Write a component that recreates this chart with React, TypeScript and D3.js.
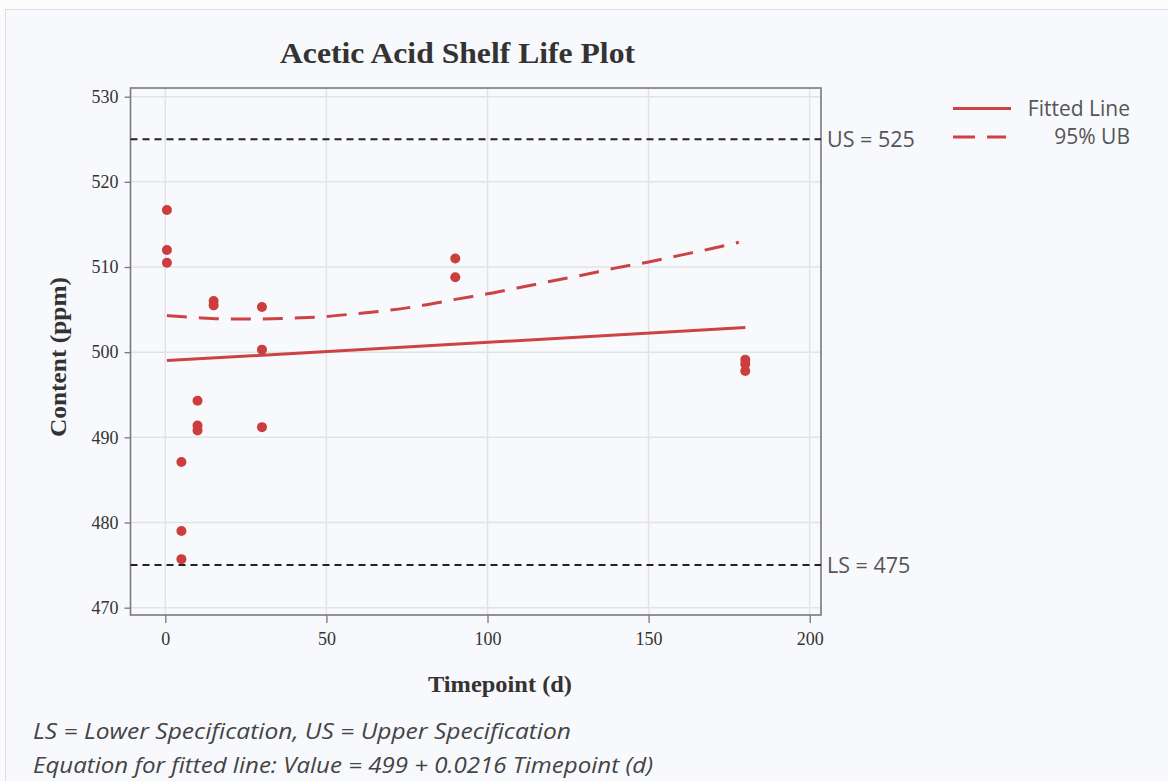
import React, { useEffect, useRef } from 'react';
import * as d3 from 'd3';

// observed results (timepoint in days, content in ppm)
const timepoints = [0.5, 0.5, 0.5, 5, 5, 5, 10, 10, 10, 15, 15, 30, 30, 30, 90, 90, 180, 180, 180];
const contents = [516.7, 512.0, 510.5, 487.1, 479.0, 475.7, 494.3, 491.4, 490.8, 506.0, 505.5, 505.3, 500.3, 491.2, 511.0, 508.8, 499.1, 498.6, 497.8];

// fitted line, Value = 499 + 0.0216 Timepoint (d)
const fitIntercept = 499;
const fitSlope = 0.0216;
const fitRange = [0.5, 180];

// 95% upper bound curve
const ubTimes = [0.5, 10, 20, 30, 40, 50, 60, 70, 80, 90, 100, 110, 120, 130, 140, 150, 160, 170, 178];
const ubValues = [504.3, 504.05, 503.9, 503.9, 504.0, 504.2, 504.55, 504.95, 505.5, 506.2, 506.85, 507.6, 508.35, 509.1, 509.9, 510.6, 511.4, 512.2, 512.9];

// specification limits
const specNames = ['US', 'LS'];
const specValues = [525, 475];

const xTicks = [0, 50, 100, 150, 200];
const yTicks = [470, 480, 490, 500, 510, 520, 530];

const legendLabels = ['Fitted Line', '95% UB'];
const footnotes = [
  'LS = Lower Specification, US = Upper Specification',
  'Equation for fitted line: Value = 499 + 0.0216 Timepoint (d)',
];

const W = 1168;
const H = 781;
const RED = '#cd4242';
const SANS = '"Open Sans", "Noto Sans", sans-serif';
const SERIF = '"Liberation Serif", "Times New Roman", serif';

export default function App() {
  const svgRef = useRef<SVGSVGElement>(null);

  useEffect(() => {
    if (!svgRef.current) return;
    const svg = d3.select(svgRef.current);
    svg.selectAll('*').remove();

    const left = 130.5, right = 821, top = 88, bottom = 615;

    const x = d3.scaleLinear().domain([-10.8, 203.5]).range([left, right]);
    const y = d3.scaleLinear().domain([469.14, 531.02]).range([bottom, top]);

    // background + panel border
    svg.append('rect').attr('width', W).attr('height', H).attr('fill', '#fbfbfc');
    svg.append('rect')
      .attr('x', 5.5).attr('y', 9.5)
      .attr('width', W + 10).attr('height', H + 10)
      .attr('fill', '#f8f9fc')
      .attr('stroke', '#dedfe2');

    // title
    svg.append('text')
      .attr('x', 280).attr('y', 63)
      .attr('textLength', 355)
      .attr('lengthAdjust', 'spacingAndGlyphs')
      .style('font-family', SERIF)
      .style('font-weight', 'bold')
      .style('font-size', '29px')
      .style('fill', '#333')
      .text('Acetic Acid Shelf Life Plot');

    const g = svg.append('g');

    // grid
    g.selectAll('.gx').data(xTicks).enter().append('line')
      .attr('x1', d => x(d)).attr('x2', d => x(d))
      .attr('y1', top).attr('y2', bottom)
      .attr('stroke', '#e2e3e5').attr('stroke-width', 1.5);
    g.selectAll('.gy').data(yTicks).enter().append('line')
      .attr('x1', left).attr('x2', right)
      .attr('y1', d => y(d)).attr('y2', d => y(d))
      .attr('stroke', '#e2e3e5').attr('stroke-width', 1.5);

    // axes
    const xAxis = g.append('g')
      .attr('transform', `translate(0, ${bottom})`)
      .call(d3.axisBottom(x).tickValues(xTicks).tickSize(8).tickPadding(9));
    const yAxis = g.append('g')
      .attr('transform', `translate(${left}, 0)`)
      .call(d3.axisLeft(y).tickValues(yTicks).tickSize(6).tickPadding(6));

    [xAxis, yAxis].forEach(a => {
      a.select('.domain').remove();
      a.selectAll('.tick line').style('stroke', '#777').style('stroke-width', 1.3);
      a.selectAll('.tick text')
        .style('font-family', SERIF)
        .style('font-size', '18px')
        .style('fill', '#333');
    });

    // frame
    g.append('rect')
      .attr('x', left).attr('y', top)
      .attr('width', right - left).attr('height', bottom - top)
      .attr('fill', 'none')
      .attr('stroke', '#7a7a7a')
      .attr('stroke-width', 1.6);

    // spec limits
    specValues.forEach((v, i) => {
      g.append('line')
        .attr('x1', left).attr('x2', right)
        .attr('y1', y(v)).attr('y2', y(v))
        .attr('stroke', '#222')
        .attr('stroke-width', 2)
        .attr('stroke-dasharray', '7,5');
      g.append('text')
        .attr('x', right + 6).attr('y', y(v))
        .attr('dy', '0.35em')
        .style('font-family', SANS)
        .style('font-size', '21.5px')
        .style('fill', '#555')
        .text(`${specNames[i]} = ${v}`);
    });

    // fitted line
    const fitPts = fitRange.map(t => [t, fitIntercept + fitSlope * t] as [number, number]);
    const line = d3.line<[number, number]>().x(d => x(d[0])).y(d => y(d[1]));
    g.append('path')
      .attr('d', line(fitPts))
      .attr('fill', 'none')
      .attr('stroke', RED)
      .attr('stroke-width', 3);

    // 95% UB
    const ubPts = ubTimes.map((t, i) => [t, ubValues[i]] as [number, number]);
    g.append('path')
      .attr('d', line.curve(d3.curveMonotoneX)(ubPts))
      .attr('fill', 'none')
      .attr('stroke', RED)
      .attr('stroke-width', 3)
      .attr('stroke-dasharray', '20,12');

    // points
    g.selectAll('.pt').data(timepoints).enter().append('circle')
      .attr('cx', d => x(d))
      .attr('cy', (d, i) => y(contents[i]))
      .attr('r', 5)
      .attr('fill', '#cc3e3e');

    // axis titles
    svg.append('text')
      .attr('x', 428).attr('y', 692)
      .attr('textLength', 144)
      .attr('lengthAdjust', 'spacingAndGlyphs')
      .style('font-family', SERIF)
      .style('font-weight', 'bold')
      .style('font-size', '23px')
      .style('fill', '#333')
      .text('Timepoint (d)');
    svg.append('text')
      .attr('transform', 'translate(66, 437) rotate(-90)')
      .attr('textLength', 160)
      .attr('lengthAdjust', 'spacingAndGlyphs')
      .style('font-family', SERIF)
      .style('font-weight', 'bold')
      .style('font-size', '23px')
      .style('fill', '#333')
      .text('Content (ppm)');

    // legend
    const legend = svg.append('g');
    legend.append('line')
      .attr('x1', 953).attr('x2', 1011).attr('y1', 108.5).attr('y2', 108.5)
      .attr('stroke', RED).attr('stroke-width', 3);
    legend.append('line')
      .attr('x1', 953).attr('x2', 1006).attr('y1', 137).attr('y2', 137)
      .attr('stroke', RED).attr('stroke-width', 3)
      .attr('stroke-dasharray', '22,12');
    legendLabels.forEach((t, i) => {
      legend.append('text')
        .attr('x', 1130).attr('y', 108.5 + i * 28.5)
        .attr('dy', '0.35em')
        .attr('text-anchor', 'end')
        .style('font-family', SANS)
        .style('font-size', '21px')
        .style('fill', '#555')
        .text(t);
    });

    // footnotes
    const noteWidths = [538, 620];
    footnotes.forEach((t, i) => {
      svg.append('text')
        .attr('x', 33).attr('y', 739 + i * 34)
        .attr('textLength', noteWidths[i])
        .attr('lengthAdjust', 'spacingAndGlyphs')
        .style('font-family', SANS)
        .style('font-style', 'italic')
        .style('font-size', '22px')
        .style('fill', '#444')
        .text(t);
    });
  }, []);

  return (
    <svg
      ref={svgRef}
      width={W}
      height={H}
      viewBox={`0 0 ${W} ${H}`}
      style={{ position: 'absolute', left: 0, top: 0 }}
    />
  );
}
